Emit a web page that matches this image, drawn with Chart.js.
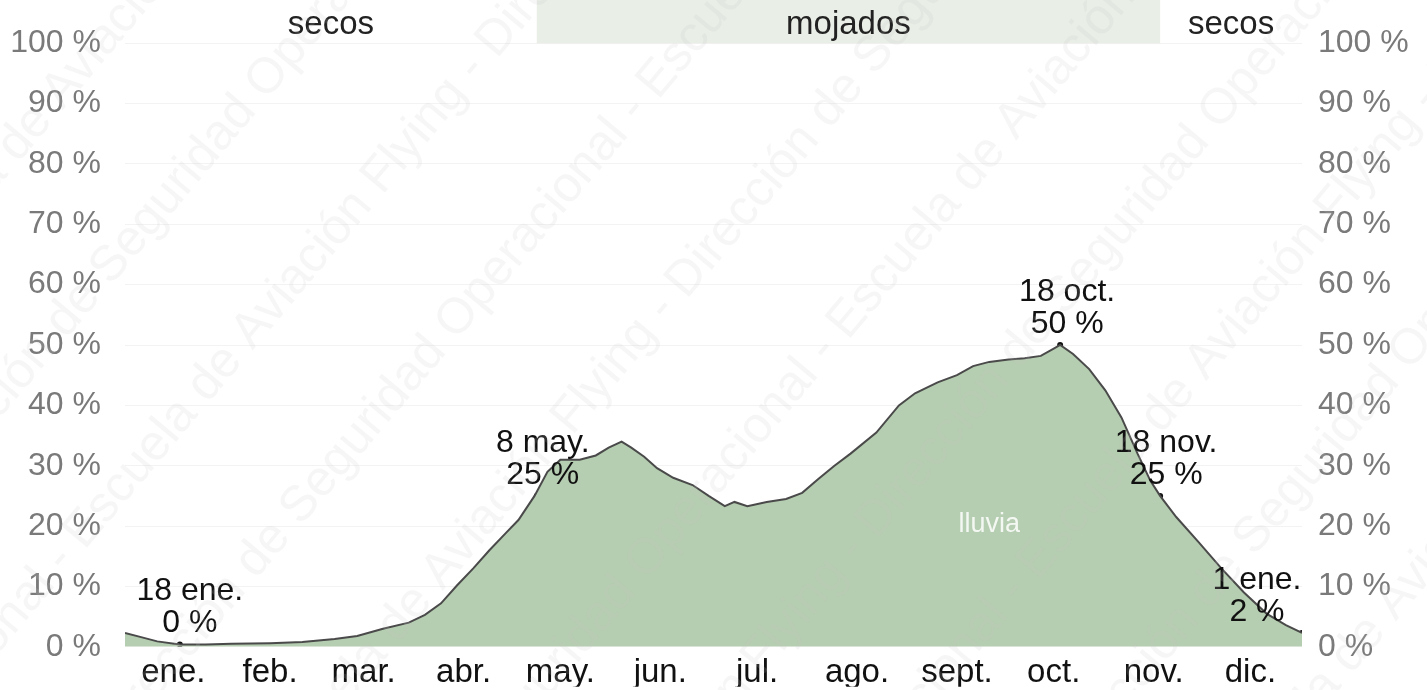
<!DOCTYPE html>
<html>
<head>
<meta charset="utf-8">
<script src="https://cdn.jsdelivr.net/npm/chart.js@4.4.1/dist/chart.umd.min.js"></script>
<style>
  html, body { margin: 0; padding: 0; background: #fff; }
  #grafico { display: block; }
</style>
</head>
<body>
<canvas id="grafico" width="1427" height="690"></canvas>
<script>
// dia del año (0 = 1 ene.) y probabilidad de lluvia en %
const dias = [0, 5, 10, 17, 25, 33, 45, 55, 65, 72, 80, 88, 93, 98, 103, 108, 113, 118, 122, 127,
    131, 135, 141, 146, 150, 154, 157, 161, 165, 170, 176, 181, 186, 189, 193, 199, 205, 210, 215, 220,
    225, 233, 240, 245, 252, 258, 263, 268, 274, 279, 284, 288, 290, 294, 299, 304, 309, 314, 318, 321,
    326, 333, 340, 347, 354, 360, 365];
const lluvia = [2.3, 1.6, 0.9, 0.4, 0.4, 0.5, 0.6, 0.8, 1.3, 1.8, 3.0, 4.0, 5.3, 7.2, 10.2, 13, 16, 18.8, 21, 25,
    29, 31, 31, 31.7, 33, 34, 33, 31.5, 29.6, 28, 26.8, 25, 23.3, 24, 23.3, 24, 24.5, 25.5, 27.8, 30,
    32, 35.5, 40, 42, 43.8, 45, 46.5, 47.2, 47.6, 47.8, 48.2, 49.4, 50, 48.5, 46, 42.5, 38, 32, 27.5, 25,
    21.5, 17.3, 13, 9, 5.5, 3.6, 2.3];

const meses = ['ene.', 'feb.', 'mar.', 'abr.', 'may.', 'jun.', 'jul.', 'ago.', 'sept.', 'oct.', 'nov.', 'dic.'];
const inicioMes = [0, 31, 59, 90, 120, 151, 181, 212, 243, 273, 304, 334, 365];
const mitadMes = [15, 45, 74, 105, 135, 166, 196, 227, 258, 288, 319, 349];
const ticksY = [0, 10, 20, 30, 40, 50, 60, 70, 80, 90, 100];

// temporada mojada: 8 may. a 18 nov.
const inicioMojado = 127.7;
const finMojado = 321;
const temporadas = [
    { texto: 'secos', desde: 0, hasta: inicioMojado },
    { texto: 'mojados', desde: inicioMojado, hasta: finMojado },
    { texto: 'secos', desde: finMojado, hasta: 365 }
];

const notasDia = [17, 127.7, 290, 321, 365];
const notasValor = [0.4, 25, 50, 25, 2.3];
const notasFecha = ['18 ene.', '8 may.', '18 oct.', '18 nov.', '1 ene.'];
const notasTexto = ['0 %', '25 %', '50 %', '25 %', '2 %'];
const notasDx = [10, 6, 7, 6, -45];

const marcaAgua = 'Dirección de Seguridad Operacional - Escuela de Aviación Flying - ';

const fuente = '"Liberation Sans", Arial, sans-serif';

const pluginTemporadas = {
    id: 'temporadas',
    beforeDraw(chart) {
        const ctx = chart.ctx;
        const x = chart.scales.x;
        const area = chart.chartArea;
        ctx.save();
        ctx.fillStyle = '#e9eee6';
        ctx.fillRect(x.getPixelForValue(inicioMojado), 0,
            x.getPixelForValue(finMojado) - x.getPixelForValue(inicioMojado), area.top);
        ctx.fillStyle = '#222';
        ctx.font = '33px ' + fuente;
        ctx.textAlign = 'center';
        ctx.textBaseline = 'alphabetic';
        temporadas.forEach(t => {
            const cx = (x.getPixelForValue(t.desde) + x.getPixelForValue(t.hasta)) / 2;
            ctx.fillText(t.texto, cx, 34);
        });
        ctx.restore();
    }
};

const pluginNotas = {
    id: 'notas',
    afterDatasetsDraw(chart) {
        const ctx = chart.ctx;
        const x = chart.scales.x;
        const y = chart.scales.y;
        ctx.save();
        ctx.font = '32px ' + fuente;
        ctx.textAlign = 'center';
        ctx.textBaseline = 'alphabetic';
        ctx.fillStyle = '#111';
        for (let i = 0; i < notasDia.length; i++) {
            const px = x.getPixelForValue(notasDia[i]) + notasDx[i];
            const py = y.getPixelForValue(notasValor[i]);
            ctx.fillText(notasFecha[i], px, py - 44);
            ctx.fillText(notasTexto[i], px, py - 12);
        }
        // etiqueta de la serie
        ctx.fillStyle = 'rgba(255,255,255,0.85)';
        ctx.font = '27px ' + fuente;
        ctx.textBaseline = 'middle';
        ctx.fillText('lluvia', x.getPixelForValue(268), y.getPixelForValue(20.2));
        ctx.restore();
    },
    afterDraw(chart) {
        // marca de agua diagonal
        const ctx = chart.ctx;
        ctx.save();
        ctx.rotate(-50 * Math.PI / 180);
        ctx.font = '50px ' + fuente;
        ctx.fillStyle = 'rgba(200,200,200,0.16)';
        ctx.textBaseline = 'middle';
        const largo = ctx.measureText(marcaAgua).width;
        const antes = ctx.measureText('Dirección de ').width;
        const salto = -largo / 2 - 31;
        for (let k = -8; k <= 10; k++) {
            const v = 255 + 150 * k;
            let u = -148 - antes + k * salto;
            u = ((u % largo) + largo) % largo - 2 * largo;
            for (; u < 1800; u += largo) {
                ctx.fillText(marcaAgua, u, v);
            }
        }
        ctx.restore();
    }
};

new Chart(document.getElementById('grafico'), {
    type: 'line',
    data: {
        datasets: [{
            label: 'lluvia',
            data: dias.map((d, i) => ({ x: d, y: lluvia[i] })),
            borderColor: '#4a4a4a',
            borderWidth: 2,
            backgroundColor: '#b5cdb0',
            fill: 'origin',
            pointRadius: 0,
            tension: 0
        }, {
            label: 'notas',
            type: 'scatter',
            data: notasDia.map((d, i) => ({ x: d, y: notasValor[i] })),
            pointRadius: 3,
            pointBackgroundColor: '#111',
            pointBorderWidth: 0
        }]
    },
    options: {
        responsive: false,
        animation: false,
        devicePixelRatio: 1,
        layout: { padding: { top: 42, left: 0, right: 0, bottom: 0 } },
        plugins: {
            legend: { display: false },
            tooltip: { enabled: false }
        },
        scales: {
            x: {
                type: 'linear',
                min: 0,
                max: 365,
                position: 'bottom',
                z: 1,
                afterBuildTicks: scale => { scale.ticks = inicioMes.map(v => ({ value: v })); },
                ticks: { display: false },
                grid: { color: 'rgba(255,255,255,0.3)', drawTicks: false },
                border: { display: false }
            },
            xm: {
                type: 'linear',
                min: 0,
                max: 365,
                position: 'bottom',
                afterBuildTicks: scale => { scale.ticks = mitadMes.map(v => ({ value: v })); },
                afterFit: scale => { scale.height = 40; },
                ticks: {
                    autoSkip: false,
                    maxRotation: 0,
                    padding: -2,
                    color: '#111',
                    font: { family: fuente, size: 33 },
                    callback: (v, i) => meses[i]
                },
                grid: { display: false },
                border: { display: false }
            },
            y: {
                min: 0,
                max: 100,
                position: 'left',
                afterBuildTicks: scale => { scale.ticks = ticksY.map(v => ({ value: v })); },
                afterFit: scale => { scale.width = 125; },
                ticks: {
                    padding: 24,
                    color: '#7a7a7a',
                    font: { family: fuente, size: 32 },
                    callback: v => v + ' %'
                },
                grid: { color: 'rgba(0,0,0,0.07)', drawTicks: false },
                border: { display: false }
            },
            yw: {
                min: 0,
                max: 100,
                position: 'left',
                z: 1,
                afterBuildTicks: scale => { scale.ticks = ticksY.map(v => ({ value: v })); },
                afterFit: scale => { scale.width = 0; },
                ticks: { display: false },
                grid: { color: 'rgba(255,255,255,0.3)', drawTicks: false },
                border: { display: false }
            },
            y2: {
                min: 0,
                max: 100,
                position: 'right',
                afterBuildTicks: scale => { scale.ticks = ticksY.map(v => ({ value: v })); },
                afterFit: scale => { scale.width = 125; },
                ticks: {
                    padding: 16,
                    color: '#7a7a7a',
                    font: { family: fuente, size: 32 },
                    callback: v => v + ' %'
                },
                grid: { display: false, drawTicks: false },
                border: { display: false }
            }
        }
    },
    plugins: [pluginTemporadas, pluginNotas]
});
</script>
</body>
</html>
